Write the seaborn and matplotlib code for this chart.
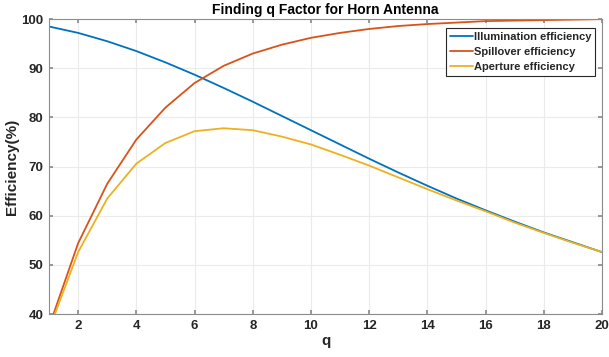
import matplotlib
matplotlib.use("Agg")
import matplotlib.pyplot as plt
import seaborn as sns
import pandas as pd

q = list(range(1, 21))
illumination = [98.5, 97.2, 95.5, 93.5, 91.2, 88.7, 86.0, 83.2, 80.3, 77.4,
                74.5, 71.6, 68.8, 66.1, 63.5, 61.1, 58.8, 56.6, 54.6, 52.6]
spillover = [37.4, 54.4, 66.5, 75.5, 82.0, 87.0, 90.5, 93.0, 94.8, 96.2,
             97.2, 98.0, 98.6, 99.0, 99.3, 99.6, 99.7, 99.8, 99.9, 100.0]
aperture = [36.8, 52.6, 63.5, 70.6, 74.8, 77.2, 77.8, 77.4, 76.1, 74.5,
            72.4, 70.2, 67.8, 65.4, 63.1, 60.9, 58.6, 56.5, 54.5, 52.6]
series_names = ["Illumination efficiency", "Spillover efficiency", "Aperture efficiency"]
colors = ["#0072BD", "#D95319", "#EDB120"]

df = pd.DataFrame({"q": q * 3,
                   "eff": illumination + spillover + aperture,
                   "series": [series_names[0]] * 20 + [series_names[1]] * 20 + [series_names[2]] * 20})

sns.set_theme(style="whitegrid")
plt.rcParams["font.family"] = ["Liberation Sans", "DejaVu Sans"]
plt.rcParams["font.weight"] = "bold"

fig = plt.figure(figsize=(6.09, 3.57), dpi=100)
ax = fig.add_axes([0.0805, 0.1204, 0.908, 0.826])
sns.lineplot(data=df, x="q", y="eff", hue="series", palette=colors, ax=ax,
             linewidth=1.3, legend=True)

ax.set_xlim(1, 20)
ax.set_ylim(40, 100)
ax.set_xticks(range(2, 21, 2))
ax.set_yticks(range(40, 101, 10))
ax.grid(True, color="#ebebeb", linewidth=0.8)
for s in ax.spines.values():
    s.set_color("#8c8c8c")
    s.set_linewidth(0.8)
ax.tick_params(axis="both", direction="in", length=3, color="#8c8c8c",
               labelsize=9.5, labelcolor="#262626", pad=4,
               top=True, right=True, bottom=True, left=True)
for lab in ax.get_xticklabels() + ax.get_yticklabels():
    lab.set_fontweight("bold")

ax.set_xlabel("q", fontsize=11, fontweight="bold", color="#262626", labelpad=2)
ax.set_ylabel("Efficiency(%)", fontsize=11, fontweight="bold", color="#262626", labelpad=2)
ax.set_title("Finding q Factor for Horn Antenna", fontsize=10, fontweight="bold",
             color="#000000", pad=4)

leg = ax.legend(loc="upper right", bbox_to_anchor=(0.9875, 0.97), frameon=True,
                fancybox=False, edgecolor="#262626", framealpha=1,
                fontsize=8, handlelength=2.0, handletextpad=0.1,
                borderpad=0.35, labelspacing=0.45, borderaxespad=0)
leg.get_frame().set_linewidth(0.8)
for t in leg.get_texts():
    t.set_fontweight("bold")

fig.savefig("out.png", dpi=100)
